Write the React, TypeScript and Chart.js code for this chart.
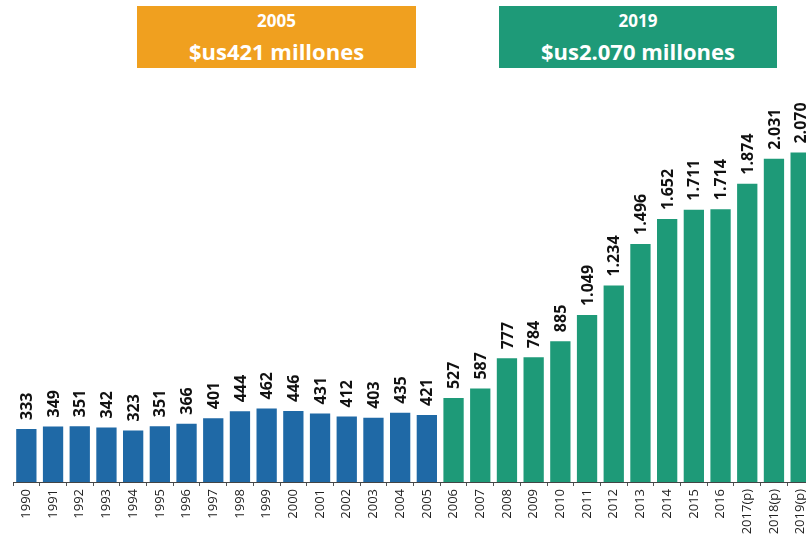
import React, { useEffect, useRef } from "react";
import { Chart, registerables } from "chart.js";

Chart.register(...registerables);

const years = [
  "1990", "1991", "1992", "1993", "1994", "1995", "1996", "1997", "1998", "1999",
  "2000", "2001", "2002", "2003", "2004", "2005", "2006", "2007", "2008", "2009",
  "2010", "2011", "2012", "2013", "2014", "2015", "2016", "2017(p)", "2018(p)", "2019(p)",
];
const values = [
  333, 349, 351, 342, 323, 351, 366, 401, 444, 462,
  446, 431, 412, 403, 435, 421, 527, 587, 777, 784,
  885, 1049, 1234, 1496, 1652, 1711, 1714, 1874, 2031, 2070,
];
const splitYear = "2005";
const boxLeft = { year: "2005", text: "$us421 millones" };
const boxRight = { year: "2019", text: "$us2.070 millones" };

const BLUE = "#1f69a6";
const GREEN = "#1e9a78";
const ORANGE = "#f0a01f";

const fmt = (v: number) => String(v).replace(/\B(?=(\d{3})+(?!\d))/g, ".");

const valueLabels = {
  id: "valueLabels",
  afterDatasetsDraw(chart: any) {
    const ctx = chart.ctx;
    const meta = chart.getDatasetMeta(0);
    ctx.save();
    ctx.font = "bold 16px 'Open Sans'";
    ctx.fillStyle = "#111";
    ctx.textAlign = "left";
    ctx.textBaseline = "middle";
    meta.data.forEach((bar: any, i: number) => {
      ctx.save();
      ctx.translate(bar.x, bar.y - 9);
      ctx.rotate(-Math.PI / 2);
      ctx.fillText(fmt(values[i]), 0, 1);
      ctx.restore();
    });
    ctx.restore();
  },
};

export default function App() {
  const ref = useRef<HTMLCanvasElement>(null);
  useEffect(() => {
    if (!ref.current) return;
    const splitIdx = years.indexOf(splitYear);
    const chart = new Chart(ref.current, {
      type: "bar",
      data: {
        labels: years,
        datasets: [
          {
            data: values,
            backgroundColor: values.map((_, i) => (i <= splitIdx ? BLUE : GREEN)),
            barPercentage: 0.76,
            categoryPercentage: 1,
          },
        ],
      },
      options: {
        responsive: false,
        animation: false,
        layout: { padding: { top: 100, left: 13, right: 16, bottom: 0 } },
        plugins: { legend: { display: false }, tooltip: { enabled: false } },
        scales: {
          y: { display: false, min: 0, max: 2400 },
          x: {
            afterFit: (scale: any) => {
              scale.height = 55;
            },
            grid: {
              display: true,
              drawOnChartArea: false,
              drawTicks: true,
              tickLength: 4,
              color: "#555",
              offset: true,
            },
            border: { display: true, color: "#444", width: 1 },
            ticks: {
              minRotation: 90,
              maxRotation: 90,
              autoSkip: false,
              padding: 3,
              color: "#222",
              font: { family: "'Open Sans'", size: 13 },
            },
          },
        },
      },
      plugins: [valueLabels],
    });
    return () => chart.destroy();
  }, []);

  const boxStyle = (left: number, width: number, bg: string): React.CSSProperties => ({
    position: "absolute",
    left,
    top: 6,
    width,
    height: 62,
    background: bg,
    color: "#fff",
    fontFamily: "'Open Sans', sans-serif",
    fontWeight: 700,
    textAlign: "center",
  });

  return (
    <div
      style={{
        position: "fixed",
        left: 0,
        top: 0,
        width: 806,
        height: 537,
        overflow: "hidden",
        background: "#fff",
      }}
    >
      <canvas ref={ref} width={830} height={537} style={{ position: "absolute", left: 0, top: 0 }} />
      <div style={boxStyle(137, 279, ORANGE)}>
        <div style={{ fontSize: 17, lineHeight: "20px", marginTop: 5 }}>{boxLeft.year}</div>
        <div style={{ fontSize: 22, lineHeight: "28px", marginTop: 6 }}>{boxLeft.text}</div>
      </div>
      <div style={boxStyle(499, 278, GREEN)}>
        <div style={{ fontSize: 17, lineHeight: "20px", marginTop: 5 }}>{boxRight.year}</div>
        <div style={{ fontSize: 22, lineHeight: "28px", marginTop: 6 }}>{boxRight.text}</div>
      </div>
    </div>
  );
}
